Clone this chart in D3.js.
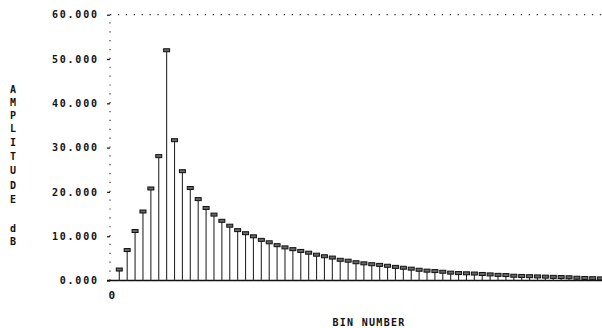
<!DOCTYPE html>
<html>
<head>
<meta charset="utf-8">
<script src="https://cdn.jsdelivr.net/npm/d3@7/dist/d3.min.js"></script>
<style>
  html, body { margin: 0; padding: 0; background: #fff; }
  svg { display: block; }
  text { font-family: "DejaVu Sans Mono", monospace; font-weight: bold; fill: #111; }
</style>
</head>
<body>
<svg id="chart" width="602" height="328"></svg>
<script>
// FFT bin magnitudes (dB) of the analysed signal
const bins = [1, 2, 3, 4, 5, 6, 7, 8, 9, 10, 11, 12, 13, 14, 15, 16, 17, 18, 19, 20,
  21, 22, 23, 24, 25, 26, 27, 28, 29, 30, 31, 32, 33, 34, 35, 36, 37, 38, 39, 40,
  41, 42, 43, 44, 45, 46, 47, 48, 49, 50, 51, 52, 53, 54, 55, 56, 57, 58, 59, 60, 61, 62];
const amplitude = [2.7, 7.1, 11.4, 15.8, 21.0, 28.3, 52.2, 31.9, 24.9, 21.1,
  18.6, 16.6, 15.1, 13.7, 12.6, 11.6, 10.9, 10.2, 9.4, 8.85,
  8.2, 7.7, 7.3, 6.9, 6.5, 6.05, 5.7, 5.4, 4.9, 4.7,
  4.35, 4.1, 3.9, 3.75, 3.55, 3.3, 3.1, 2.9, 2.65, 2.45,
  2.35, 2.2, 2.0, 1.9, 1.85, 1.8, 1.7, 1.6, 1.5, 1.45,
  1.3, 1.25, 1.2, 1.15, 1.1, 1.05, 1.0, 0.95, 0.85, 0.8, 0.75, 0.7];
const yTicks = [0, 10, 20, 30, 40, 50, 60];
const xTicks = [0];
const yTitle = ["A", "M", "P", "L", "I", "T", "U", "D", "E", "", "d", "B"];
const xTitle = "BIN NUMBER";

const svg = d3.select("#chart");
const x = d3.scaleLinear().domain([0, 62]).range([111.4, 600.6]);
const y = d3.scaleLinear().domain([0, 60]).range([280.5, 14.7]);
const axisX = 110;

// dotted frame: left axis line and top reference line at full scale
svg.append("line")
  .attr("x1", axisX).attr("x2", axisX)
  .attr("y1", y(0)).attr("y2", y(60))
  .attr("stroke", "#333").attr("stroke-width", 1.2)
  .attr("stroke-dasharray", "1.2," + (y(0) - y(2) - 1.2));
svg.append("line")
  .attr("x1", axisX).attr("x2", 602)
  .attr("y1", y(60)).attr("y2", y(60))
  .attr("stroke", "#333").attr("stroke-width", 1.2)
  .attr("stroke-dasharray", "1.3,6.6");

// y axis ticks and labels
const gy = svg.append("g")
  .attr("transform", `translate(${axisX},0)`)
  .call(d3.axisLeft(y).tickValues(yTicks).tickSize(3).tickPadding(10).tickFormat(d3.format(".3f")));
gy.select(".domain").remove();
gy.selectAll(".tick line").attr("stroke", "#222").attr("stroke-width", 1.3);
gy.selectAll(".tick text")
  .attr("font-size", 10)
  .attr("letter-spacing", "1.8px")
  .attr("dx", "1.8")
  .style("font-family", "'DejaVu Sans Mono', monospace")
  .style("font-weight", "bold")
  .attr("fill", "#111");

// x axis baseline and origin label
const gx = svg.append("g")
  .attr("transform", `translate(0,${y(0)})`)
  .call(d3.axisBottom(x).tickValues(xTicks).tickSize(0).tickPadding(11).tickFormat(d3.format("d")));
gx.select(".domain").remove();
gx.selectAll(".tick text")
  .attr("font-size", 11)
  .style("font-family", "'DejaVu Sans Mono', monospace")
  .style("font-weight", "bold")
  .attr("fill", "#111");
svg.append("line")
  .attr("x1", axisX - 3).attr("x2", 602)
  .attr("y1", y(0)).attr("y2", y(0))
  .attr("stroke", "#111").attr("stroke-width", 1.6);

// stems
const data = bins.map((b, i) => ({ bin: b, v: amplitude[i] }));
svg.append("g").selectAll("line")
  .data(data).join("line")
  .attr("x1", d => x(d.bin)).attr("x2", d => x(d.bin))
  .attr("y1", y(0)).attr("y2", d => y(d.v))
  .attr("stroke", "#2a2a2a").attr("stroke-width", 1.1);

// caps on each stem
svg.append("g").selectAll("rect")
  .data(data).join("rect")
  .attr("x", d => x(d.bin) - 3)
  .attr("y", d => y(d.v) - 0.5)
  .attr("width", 6).attr("height", 3)
  .attr("fill", "#666").attr("stroke", "#111").attr("stroke-width", 1);

// vertical axis title, one letter per row
const titleY = [89, 102, 115, 128, 142, 156, 170, 185, 199, 0, 228, 241];
svg.append("g").selectAll("text")
  .data(yTitle.map((c, i) => ({ c, i })).filter(d => d.c !== ""))
  .join("text")
  .attr("x", 13).attr("y", d => titleY[d.i])
  .attr("text-anchor", "middle").attr("dominant-baseline", "central")
  .attr("font-size", 10)
  .text(d => d.c);

// horizontal axis title
svg.append("text")
  .attr("x", 369).attr("y", 322)
  .attr("text-anchor", "middle").attr("dominant-baseline", "central")
  .attr("font-size", 10).attr("letter-spacing", "1.3px")
  .text(xTitle);
</script>
</body>
</html>
